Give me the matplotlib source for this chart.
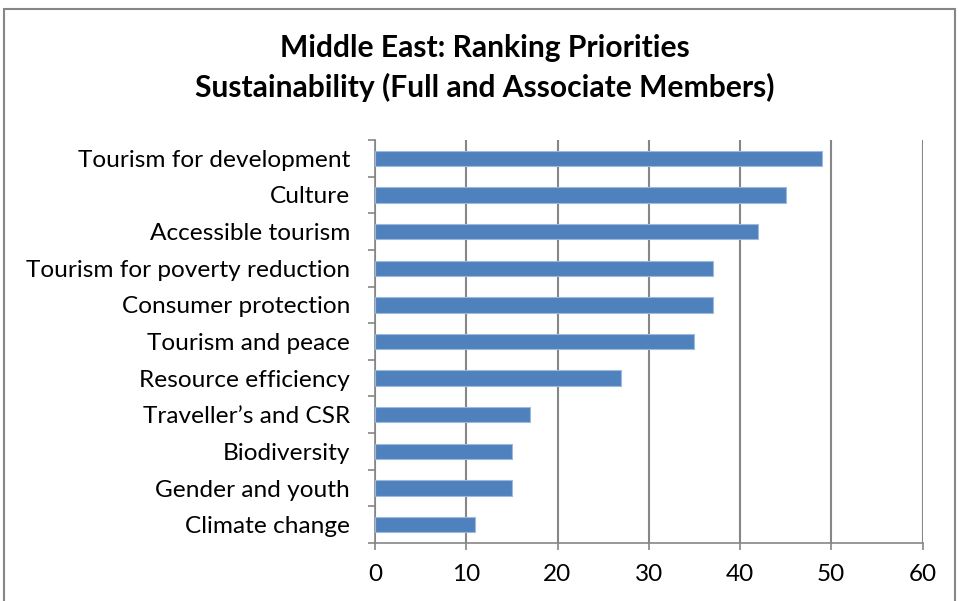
import matplotlib
matplotlib.use("Agg")
import matplotlib.pyplot as plt
from matplotlib.patches import Rectangle

categories = ["Tourism for development", "Culture", "Accessible tourism",
              "Tourism for poverty reduction", "Consumer protection",
              "Tourism and peace", "Resource efficiency", "Traveller\u2019s and CSR",
              "Biodiversity", "Gender and youth", "Climate change"]
values = [49, 45, 42, 37, 37, 35, 27, 17, 15, 15, 11]
xticks = [0, 10, 20, 30, 40, 50, 60]
title = "Middle East: Ranking Priorities\nSustainability (Full and Associate Members)"

plt.rcParams['font.family'] = ['Lato', 'DejaVu Sans']

W, H = 959, 601
fig = plt.figure(figsize=(W/100, H/100), dpi=100)
ax = fig.add_axes([375/W, 1-543/H, (922.5-375)/W, (543-140)/H])

n = len(categories)
ypos = list(range(n))[::-1]
ax.barh(ypos, values, height=0.42, color="#4F81BD", edgecolor="#9DB9DE", linewidth=0.8, zorder=3)
ax.set_ylim(-0.5, n-0.5)
ax.set_xlim(0, 60)
ax.set_xticks(xticks)
ax.set_xticklabels([str(t) for t in xticks], fontsize=17.5)
ax.set_yticks(ypos)
ax.set_yticklabels(categories, fontsize=17.6)
ax.tick_params(axis='y', length=0, pad=18)
# category boundary ticks
ax.set_yticks([i - 0.5 for i in range(n + 1)], minor=True)
ax.tick_params(axis='y', which='minor', length=5, color="#868686", width=1.2)
ax.tick_params(axis='x', length=5, color="#868686", width=1.2, pad=10)
ax.grid(axis='x', color="#868686", linewidth=1.5, zorder=0)
for s in ['top', 'right']:
    ax.spines[s].set_visible(False)
for s in ['left', 'bottom']:
    ax.spines[s].set_color("#868686")
    ax.spines[s].set_linewidth(1.2)

fig.text(485/W, 1-68/H, title, ha='center', va='center', fontsize=21.6, fontweight='bold',
         linespacing=1.45)

fig.patches.append(Rectangle((4/W, -0.05), (955-4)/W, (1-9/H)+0.05, transform=fig.transFigure,
                             fill=False, edgecolor="#868686", linewidth=1.5))

fig.savefig("out.png", dpi=100)
